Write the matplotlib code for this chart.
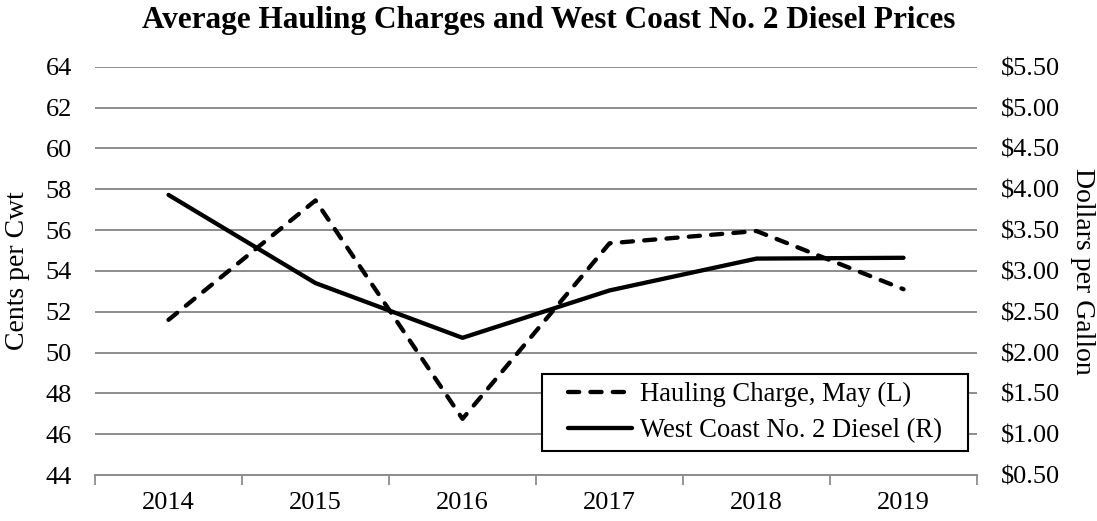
import matplotlib
matplotlib.use("Agg")
import matplotlib.pyplot as plt
from matplotlib.patches import Rectangle
from matplotlib.ticker import FuncFormatter, FixedLocator

# data
years = ["2014", "2015", "2016", "2017", "2018", "2019"]
hauling = [51.6, 57.45, 46.75, 55.35, 55.95, 53.1]      # cents per cwt (left)
diesel = [3.93, 2.85, 2.18, 2.76, 3.15, 3.16]           # dollars per gallon (right)

plt.rcParams["font.family"] = ["Liberation Serif", "DejaVu Serif"]

W, H = 1097, 521
fig = plt.figure(figsize=(W / 100, H / 100), dpi=100)
ax = fig.add_axes([95 / W, 1 - 475 / H, 882 / W, 408.3 / H])
ax2 = ax.twinx()

x = list(range(len(years)))

l1, = ax.plot(x, hauling, color="black", lw=3.1, linestyle=(0, (2.6, 2.6)),
              dash_capstyle="round", solid_capstyle="round",
              label="Hauling Charge, May (L)")
l2, = ax2.plot(x, diesel, color="black", lw=3.1, solid_capstyle="round",
               label="West Coast No. 2 Diesel (R)")

ax.set_xlim(-0.5, len(years) - 0.5)
ax.set_ylim(44, 64)
ax.set_yticks(range(44, 65, 2))
ax2.set_ylim(0.5, 5.5)
ax2.set_yticks([0.5 + 0.5 * i for i in range(11)])
ax2.yaxis.set_major_formatter(FuncFormatter(lambda v, p: "${:.2f}".format(v)))

# category labels sit between the boundary ticks
ax.xaxis.set_major_locator(FixedLocator([i - 0.5 for i in range(len(years) + 1)]))
ax.xaxis.set_minor_locator(FixedLocator(x))
ax.set_xticklabels([""] * (len(years) + 1))
ax.set_xticklabels(years, minor=True)
ax.tick_params(axis="x", which="major", length=7, width=1.3, color="#8c8c8c", direction="out")
ax.tick_params(axis="x", which="minor", length=0, pad=12, labelsize=19)

ax.tick_params(axis="y", length=0, labelsize=19, pad=16.5)
ax2.tick_params(axis="y", length=0, labelsize=19, pad=17)

ax.grid(axis="y", color="#8c8c8c", lw=1.4)
ax.set_axisbelow(True)

for a in (ax, ax2):
    for s in ("left", "right", "top"):
        a.spines[s].set_visible(False)
    a.spines["bottom"].set_color("#8c8c8c")
    a.spines["bottom"].set_linewidth(1.4)
ax2.spines["bottom"].set_visible(False)

ymid = 1 - 271 / H
fig.text(18 / W, ymid, "Cents per Cwt", rotation=90, ha="center", va="center", fontsize=20)
fig.text(1082 / W, ymid, "Dollars per Gallon", rotation=270, ha="center", va="center", fontsize=20)

fig.text(0.5, 1 - 6 / H, "Average Hauling Charges and West Coast No. 2 Diesel Prices",
         ha="center", va="top", fontsize=22.5, fontweight="bold")

leg = ax2.legend(handles=[l1, l2], loc="lower right",
                 bbox_to_anchor=((950 - 95) / 882, (475 - 451) / 408.3),
                 fontsize=19.2, frameon=False, handlelength=2.4,
                 handletextpad=0.3, borderpad=0.3, labelspacing=0.4, borderaxespad=0)
leg.set_zorder(6)

# frame wider than the legend's own padding, like the original box
fig.canvas.draw()
bb = leg.get_window_extent().transformed(ax2.transAxes.inverted())
padx = 18 / 882
box = Rectangle((bb.x0 - padx, bb.y0), bb.width + 2 * padx, bb.height,
                transform=ax2.transAxes, facecolor="white", edgecolor="black",
                lw=1.5, zorder=5, clip_on=False)
ax2.add_patch(box)

fig.savefig("out.png", dpi=100)
